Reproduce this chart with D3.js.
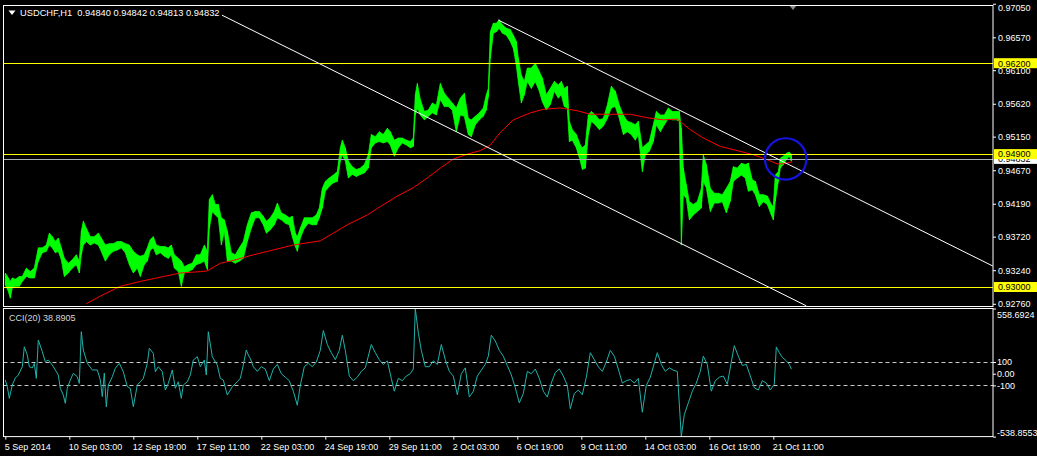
<!DOCTYPE html>
<html><head><meta charset="utf-8">
<script src="https://cdn.jsdelivr.net/npm/d3@7"></script>
<style>html,body{margin:0;padding:0;background:#000;overflow:hidden}svg{display:block}</style>
</head><body><svg id="c" width="1037" height="456"></svg>
<script>
// ---------------- DATA ----------------
const symbolTitle = "USDCHF,H1";
const ohlcLast = ["0.94840", "0.94842", "0.94813", "0.94832"];
const timeTickBars = [0, 64, 128, 192, 256, 320, 384, 448, 512, 576, 640, 704, 768];
const timeTickLabels = ["5 Sep 2014", "10 Sep 03:00", "12 Sep 19:00", "17 Sep 11:00", "22 Sep 03:00",
  "24 Sep 19:00", "29 Sep 11:00", "2 Oct 03:00", "6 Oct 19:00", "9 Oct 11:00", "14 Oct 03:00",
  "16 Oct 19:00", "21 Oct 11:00"];
const priceTicks = [0.97050, 0.96570, 0.96100, 0.95620, 0.95150, 0.94670, 0.94190, 0.93720, 0.93240, 0.92760];
const levelLines = [0.96200, 0.94900, 0.93000];
const bidPrice = 0.94832;

// hourly bars (bar index from 5 Sep 2014 11:00), highs and lows
const barIdx = [0,3,5,7,10,14,17,21,25,29,33,37,41,44,47,50,53,56,59,63,67,71,74,76,78,81,85,89,93,96,
  100,104,108,112,116,120,124,128,132,135,139,142,145,148,151,155,159,163,166,169,173,176,179,183,187,191,195,199,202,204,
  207,210,213,216,219,222,226,230,234,238,242,246,250,254,258,261,265,269,272,276,280,284,287,290,292,295,299,303,307,311,
  314,317,320,324,328,332,335,337,340,343,347,351,355,359,363,366,370,374,378,382,385,389,393,397,401,405,408,410,412,415,
  419,423,427,431,435,439,443,447,451,455,459,463,466,470,474,478,481,483,485,488,491,494,497,501,505,508,511,513,516,519,
  522,526,530,534,537,541,545,549,553,556,559,562,564,567,571,575,577,580,583,586,590,594,598,602,606,610,614,618,622,626,
  630,633,637,640,644,648,651,655,659,663,667,671,674,676,678,681,684,688,692,696,698,701,705,709,713,717,721,725,728,732,
  736,740,743,747,750,754,758,762,766,768,770,773,775,778,781,784,786];
const barHigh = [0.9320,0.9313,0.9308,0.9313,0.9311,0.9315,0.9315,0.9327,0.9322,0.9327,0.9356,0.9356,0.9360,0.9377,0.9372,0.9365,0.9370,0.9356,0.9341,0.9334,0.9339,0.9346,0.9337,0.9380,0.9394,0.9384,0.9372,0.9372,0.9377,0.9370,
  0.9360,0.9362,0.9362,0.9365,0.9365,0.9362,0.9360,0.9351,0.9346,0.9344,0.9346,0.9356,0.9368,0.9372,0.9360,0.9358,0.9358,0.9356,0.9360,0.9346,0.9341,0.9337,0.9329,0.9332,0.9334,0.9346,0.9346,0.9360,0.9351,0.9425,
  0.9432,0.9418,0.9418,0.9399,0.9396,0.9380,0.9349,0.9346,0.9356,0.9365,0.9389,0.9406,0.9408,0.9408,0.9401,0.9394,0.9399,0.9408,0.9420,0.9406,0.9403,0.9399,0.9401,0.9377,0.9372,0.9384,0.9399,0.9399,0.9399,0.9403,
  0.9413,0.9441,0.9451,0.9456,0.9460,0.9465,0.9499,0.9510,0.9499,0.9480,0.9472,0.9468,0.9470,0.9475,0.9489,0.9518,0.9515,0.9522,0.9518,0.9527,0.9522,0.9510,0.9513,0.9513,0.9510,0.9508,0.9513,0.9575,0.9591,0.9568,
  0.9551,0.9553,0.9563,0.9560,0.9591,0.9577,0.9570,0.9563,0.9556,0.9570,0.9577,0.9541,0.9539,0.9544,0.9549,0.9556,0.9575,0.9584,0.9665,0.9677,0.9677,0.9682,0.9675,0.9670,0.9668,0.9660,0.9651,0.9627,0.9603,0.9594,
  0.9613,0.9613,0.9620,0.9608,0.9599,0.9575,0.9584,0.9594,0.9589,0.9594,0.9584,0.9587,0.9537,0.9525,0.9518,0.9503,0.9499,0.9503,0.9546,0.9551,0.9546,0.9539,0.9541,0.9560,0.9587,0.9580,0.9560,0.9546,0.9537,0.9535,
  0.9532,0.9537,0.9499,0.9503,0.9508,0.9532,0.9551,0.9546,0.9546,0.9556,0.9551,0.9551,0.9551,0.9527,0.9470,0.9446,0.9422,0.9418,0.9422,0.9441,0.9489,0.9475,0.9441,0.9434,0.9434,0.9432,0.9441,0.9451,0.9472,0.9470,
  0.9477,0.9475,0.9477,0.9453,0.9451,0.9432,0.9432,0.9430,0.9418,0.9415,0.9460,0.9465,0.9484,0.9487,0.9491,0.9493,0.9489];
const barLow = [0.9303,0.9294,0.9284,0.9299,0.9301,0.9301,0.9308,0.9315,0.9313,0.9313,0.9337,0.9349,0.9351,0.9360,0.9356,0.9349,0.9351,0.9339,0.9315,0.9320,0.9327,0.9332,0.9320,0.9346,0.9360,0.9365,0.9360,0.9363,0.9360,0.9351,
  0.9337,0.9346,0.9351,0.9353,0.9356,0.9349,0.9332,0.9320,0.9327,0.9315,0.9332,0.9337,0.9353,0.9356,0.9346,0.9349,0.9344,0.9341,0.9346,0.9327,0.9322,0.9301,0.9320,0.9322,0.9325,0.9332,0.9334,0.9337,0.9325,0.9384,
  0.9408,0.9403,0.9399,0.9360,0.9380,0.9337,0.9337,0.9334,0.9337,0.9341,0.9365,0.9384,0.9399,0.9399,0.9389,0.9377,0.9382,0.9389,0.9399,0.9396,0.9391,0.9389,0.9372,0.9358,0.9351,0.9370,0.9384,0.9391,0.9389,0.9389,
  0.9399,0.9413,0.9437,0.9444,0.9449,0.9451,0.9480,0.9489,0.9480,0.9456,0.9461,0.9458,0.9461,0.9463,0.9470,0.9499,0.9506,0.9508,0.9506,0.9508,0.9503,0.9487,0.9499,0.9506,0.9503,0.9499,0.9501,0.9546,0.9556,0.9546,
  0.9539,0.9544,0.9549,0.9546,0.9568,0.9558,0.9558,0.9553,0.9522,0.9546,0.9544,0.9518,0.9515,0.9532,0.9539,0.9544,0.9553,0.9572,0.9627,0.9663,0.9665,0.9670,0.9663,0.9660,0.9651,0.9641,0.9617,0.9594,0.9563,0.9575,
  0.9594,0.9584,0.9594,0.9580,0.9565,0.9553,0.9561,0.9580,0.9570,0.9575,0.9558,0.9556,0.9508,0.9510,0.9499,0.9480,0.9468,0.9470,0.9518,0.9537,0.9532,0.9525,0.9530,0.9541,0.9556,0.9558,0.9541,0.9518,0.9522,0.9518,
  0.9510,0.9518,0.9465,0.9489,0.9494,0.9508,0.9532,0.9522,0.9532,0.9541,0.9539,0.9539,0.9537,0.9360,0.9432,0.9427,0.9396,0.9403,0.9408,0.9413,0.9451,0.9442,0.9408,0.9420,0.9420,0.9422,0.9406,0.9423,0.9451,0.9456,
  0.9460,0.9456,0.9437,0.9439,0.9432,0.9415,0.9422,0.9418,0.9403,0.9396,0.9423,0.9451,0.9470,0.9475,0.9482,0.9487,0.9480];

// red moving average
const maIdx = [81,95,115,135,155,175,195,202,215,228,248,268,288,315,328,342,362,375,392,408,422,435,448,462,475,485,495,508,525,538,
  555,572,585,605,625,642,658,672,685,698,715,732,748,762,772,778,787];
const maVal = [0.9276,0.9287,0.9301,0.9308,0.9314,0.9320,0.9322,0.9323,0.9334,0.9338,0.9346,0.9353,0.9360,0.9366,0.9377,0.9389,0.9403,0.9415,0.9430,0.9442,0.9456,0.9470,0.9483,0.9490,0.9495,0.9503,0.9521,0.9539,0.9549,0.9554,
  0.9556,0.9552,0.9547,0.9547,0.9547,0.9542,0.9539,0.9540,0.9525,0.9513,0.9501,0.9495,0.9489,0.9482,0.9476,0.9476,0.9479];

// CCI(20)
const cciIdx = [0,2,4,7,10,13,17,19,22,24,27,29,31,33,37,40,43,47,50,53,55,58,60,62,65,68,72,74,76,78,
  82,87,92,95,97,99,101,103,107,110,114,118,122,125,128,132,135,138,142,144,148,150,153,157,160,163,167,170,173,176,
  178,182,185,188,192,195,199,201,203,207,212,215,218,222,227,232,235,238,241,243,245,248,252,256,260,264,268,272,276,280,
  284,288,292,295,299,303,307,311,315,318,322,326,330,334,337,340,344,348,352,356,360,363,366,370,374,378,382,386,389,393,
  397,401,405,408,410,413,416,420,424,428,432,436,440,444,448,452,456,460,464,468,472,476,480,483,486,490,494,498,502,506,
  510,514,518,522,526,530,534,538,542,546,550,554,558,562,565,569,573,577,581,585,589,593,597,601,605,609,613,617,621,625,
  629,633,637,641,645,649,652,656,660,664,668,672,676,679,683,687,691,695,698,702,706,710,714,718,722,726,729,733,737,741,
  745,749,753,757,761,765,769,771,774,777,781,784,786];
const cciVal = [-54,-111,-211,-97,-37,-11,60,231,160,60,49,89,-40,289,189,103,117,74,32,-11,-125,-183,-254,-125,-54,3,-26,-83,360,203,
  89,32,32,-54,-197,6,-283,-97,-26,46,89,17,-111,-125,-283,-97,-69,-40,89,218,175,17,60,17,-140,-83,32,-125,-69,-211,
  -97,-69,-11,117,146,60,117,-11,360,146,74,-40,-54,-183,-111,-69,-40,74,203,160,130,60,20,60,40,-60,40,80,0,-30,
  -60,-150,-270,-100,60,90,60,100,200,370,250,180,120,200,330,200,-20,-60,-30,20,50,150,250,180,120,80,110,-40,-150,-40,
  -60,-20,0,40,558.6924,350,200,60,60,110,80,250,120,20,-20,-180,0,50,-200,-150,-20,30,80,150,330,280,200,150,70,-10,
  -120,-250,-170,20,0,40,-40,-150,-200,-80,10,40,-20,-100,-300,-170,-140,-180,-30,180,120,60,20,100,200,150,40,-80,-60,-50,
  -80,-40,-330,-100,-30,90,180,80,20,50,30,20,-538.8553,-350,-250,-150,-80,20,150,80,-150,-60,-30,-20,-90,100,240,150,70,80,
  -20,-120,-140,-60,-80,-140,-90,230,180,140,110,80,38.8905];
const cciTicks = [558.6924, 100, 0, -100, -538.8553];
const cciTickLabels = ["558.6924", "100", "0.00", "-100", "-538.8553"];
const cciLevels = [100, -100];
const cciLast = "38.8905";

// drawn objects: channel lines [bar, price] anchors, marking circle
const channelA = [[195, 0.97041], [801, 0.92731]];
const channelB = [[493, 0.96817], [987.5, 0.93300]];
const markCircle = {bar: 780.4, price: 0.94831};

// ---------------- LAYOUT ----------------
const W = 1037, H = 456;
const L = 3.5, R = 993, mainTop = 5, mainBottom = 306, cciTop = 308.5, cciBottom = 436.6;
const FONT = "'Liberation Sans', Arial, sans-serif";
const FS = 9;

const svg = d3.select("#c");
svg.append("rect").attr("width", W).attr("height", H).attr("fill", "#000");

const x = d3.scaleLinear().domain([0, 988]).range([5.3, 993.3]);
const yP = d3.scaleLinear().domain([0.93, 0.962]).range([287, 63.2]);
const yC = d3.scaleLinear().domain([-538.8553, 558.6924]).range([cciBottom, cciTop]);

const defs = svg.append("defs");
defs.append("clipPath").attr("id", "clipMain").append("rect")
  .attr("x", L).attr("y", mainTop).attr("width", R - L).attr("height", mainBottom - mainTop);
defs.append("clipPath").attr("id", "clipCci").append("rect")
  .attr("x", L).attr("y", cciTop).attr("width", R - L).attr("height", cciBottom - cciTop);

// ---- main panel
const gMain = svg.append("g").attr("clip-path", "url(#clipMain)");
const bars = barIdx.map((b, k) => ({b, hi: barHigh[k], lo: barLow[k]}));
gMain.append("path").datum(bars)
  .attr("d", d3.area().x(d => x(d.b)).y0(d => yP(d.lo)).y1(d => yP(d.hi)))
  .attr("fill", "#00ff00").attr("stroke", "#00ff00").attr("stroke-width", 0.8);
gMain.selectAll("line.bar").data(bars).join("line").attr("class", "bar")
  .attr("x1", d => Math.round(x(d.b)) + 0.5).attr("x2", d => Math.round(x(d.b)) + 0.5)
  .attr("y1", d => yP(d.hi)).attr("y2", d => yP(d.lo))
  .attr("stroke", "#00ff00").attr("stroke-width", 1);

gMain.append("path").datum(maIdx.map((b, k) => [b, maVal[k]]))
  .attr("d", d3.line().x(d => x(d[0])).y(d => yP(d[1])))
  .attr("fill", "none").attr("stroke", "#ff0000").attr("stroke-width", 1);

gMain.selectAll("line.level").data(levelLines).join("line").attr("class", "level")
  .attr("x1", L).attr("x2", R).attr("y1", d => Math.round(yP(d)) + 0.5).attr("y2", d => Math.round(yP(d)) + 0.5)
  .attr("stroke", "#ffff00").attr("stroke-width", 1);
gMain.append("line")
  .attr("x1", L).attr("x2", R).attr("y1", Math.round(yP(bidPrice)) + 0.5).attr("y2", Math.round(yP(bidPrice)) + 0.5)
  .attr("stroke", "#a8b0b8").attr("stroke-width", 1);

gMain.selectAll("line.chan").data([channelA, channelB]).join("line").attr("class", "chan")
  .attr("x1", d => x(d[0][0])).attr("y1", d => yP(d[0][1]))
  .attr("x2", d => x(d[1][0])).attr("y2", d => yP(d[1][1]))
  .attr("stroke", "#ffffff").attr("stroke-width", 1);

gMain.append("circle")
  .attr("cx", x(markCircle.bar)).attr("cy", yP(markCircle.price)).attr("r", 20.7)
  .attr("fill", "none").attr("stroke", "#1414e6").attr("stroke-width", 2.2);

// header (black backdrop hides the channel line under text)
svg.append("rect").attr("x", 5).attr("y", 6).attr("width", 217).attr("height", 13).attr("fill", "#000");
svg.append("path").attr("d", "M8.5,10.5 L15.5,10.5 L12,15 Z").attr("fill", "#fff");
svg.append("text").attr("x", 20).attr("y", 16)
  .attr("font-family", FONT).attr("font-size", 9.3).attr("fill", "#fff")
  .attr("xml:space", "preserve")
  .text(symbolTitle + "  " + ohlcLast.join(" "));

// chart shift marker
svg.append("path").attr("d", "M789,5 L797,5 L793,10 Z").attr("fill", "#8a8a8a");

// ---- CCI panel
const gCci = svg.append("g").attr("clip-path", "url(#clipCci)");
gCci.selectAll("line.clev").data(cciLevels).join("line").attr("class", "clev")
  .attr("x1", L).attr("x2", R).attr("y1", d => Math.round(yC(d)) + 0.5).attr("y2", d => Math.round(yC(d)) + 0.5)
  .attr("stroke", "#c8c8c8").attr("stroke-width", 1).attr("stroke-dasharray", "4,3");
gCci.append("path").datum(cciIdx.map((b, k) => [b, cciVal[k]]))
  .attr("d", d3.line().x(d => x(d[0])).y(d => yC(d[1])))
  .attr("fill", "none").attr("stroke", "#20b2aa").attr("stroke-width", 1);
svg.append("text").attr("x", 9).attr("y", 321)
  .attr("font-family", FONT).attr("font-size", FS).attr("fill", "#d8d8d8")
  .text("CCI(20) " + cciLast);

// ---- frames
const frame = svg.append("g").attr("fill", "none").attr("stroke", "#fff").attr("stroke-width", 1);
frame.append("rect").attr("x", L).attr("y", mainTop + 0.5).attr("width", R - L).attr("height", mainBottom - mainTop);
frame.append("rect").attr("x", L).attr("y", cciTop).attr("width", R - L).attr("height", cciBottom - cciTop);

// ---- axes
function styleAxis(g) {
  g.select(".domain").remove();
  g.selectAll("line").attr("stroke", "#fff");
  g.selectAll("text").attr("fill", "#fff").attr("font-family", FONT).attr("font-size", FS);
}
const axP = svg.append("g").attr("transform", `translate(${R},0)`)
  .call(d3.axisRight(yP).tickValues(priceTicks).tickFormat(d3.format(".5f")).tickSize(3).tickPadding(2))
  .call(styleAxis);
axP.selectAll(".tick").each(function (d) {
  const yy = yP(d);
  if (yy < 8) d3.select(this).select("text").attr("y", 8 - yy);
});

const axC = svg.append("g").attr("transform", `translate(${R},0)`)
  .call(d3.axisRight(yC).tickValues(cciTicks).tickFormat((d, i) => cciTickLabels[i]).tickSize(3).tickPadding(1))
  .call(styleAxis);
axC.selectAll(".tick").each(function (d) {
  const yy = yC(d);
  const t = d3.select(this).select("text");
  if (yy < cciTop + 6) t.attr("y", cciTop + 6.5 - yy);
  if (yy > cciBottom - 5) t.attr("y", cciBottom - 4 - yy);
});

const axT = svg.append("g").attr("transform", `translate(0,${cciBottom})`)
  .call(d3.axisBottom(x).tickValues(timeTickBars).tickFormat((d, i) => timeTickLabels[i]).tickSize(3).tickPadding(2))
  .call(styleAxis);
axT.selectAll("text").attr("text-anchor", "start").attr("dx", -1).attr("dy", "0.95em");

// ---- highlighted price labels on the axis
const tagBid = svg.append("g");
tagBid.append("rect").attr("x", R + 1).attr("y", yP(bidPrice) - 4.5).attr("width", W - R - 1).attr("height", 9.5).attr("fill", "#fff");
tagBid.append("text").attr("x", R + 5).attr("y", yP(bidPrice) + 3.3)
  .attr("font-family", FONT).attr("font-size", FS).attr("fill", "#000").text(d3.format(".5f")(bidPrice));
svg.selectAll("g.tag").data(levelLines).join("g").attr("class", "tag")
  .each(function (d) {
    const g = d3.select(this), yy = yP(d);
    g.append("rect").attr("x", R + 1).attr("y", yy - 5).attr("width", W - R - 1).attr("height", 10).attr("fill", "#ffff00");
    g.append("text").attr("x", R + 5).attr("y", yy + 3.3)
      .attr("font-family", FONT).attr("font-size", FS).attr("fill", "#000").text(d3.format(".5f")(d));
  });
</script>
</body></html>
